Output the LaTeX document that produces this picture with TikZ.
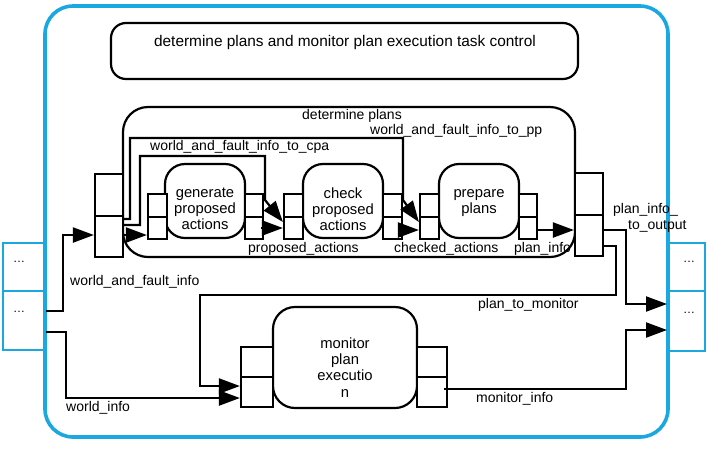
\documentclass[tikz,border=0pt]{standalone}
\usepackage{fontspec}
\setmainfont{Liberation Sans}
\usetikzlibrary{arrows.meta}
\definecolor{cyanb}{RGB}{27,168,224}
\begin{document}
\begin{tikzpicture}[x=1pt,y=-1pt,
  lab/.style={font=\fontsize{14}{16}\selectfont, inner sep=0pt, anchor=west},
  boxtxt/.style={font=\fontsize{14.8}{16.2}\selectfont, align=center, inner sep=0pt},
  rbox/.style={draw, line width=2.2pt, rounded corners=#1, inner sep=0pt, fill=white},
  port/.style={draw, line width=2.2pt, fill=white, inner sep=0pt},
  extport/.style={draw=cyanb, line width=2pt, inner sep=0pt},
  dots/.style={font=\fontsize{12}{12}\selectfont, inner sep=0pt},
  conn/.style={line width=2.2pt},
  arr/.style={conn, -{Triangle[length=21pt,width=15pt]}},
]
\useasboundingbox (0,0) rectangle (714,448);
% outer boundary
\node[draw=cyanb, line width=3.6pt, rounded corners=28pt, inner sep=0pt, minimum width=623pt, minimum height=431pt] (outer) at (356.5,221.5) {};
% external ports
\node[extport, minimum width=42pt, minimum height=48pt] (extL1) at (24,267) {};
\node[extport, minimum width=42pt, minimum height=59pt] (extL2) at (24,320.5) {};
\node[extport, minimum width=37pt, minimum height=48pt] (extR1) at (686.5,267) {};
\node[extport, minimum width=37pt, minimum height=60pt] (extR2) at (686.5,321) {};
\node[dots] (dL1) at (19,262) {…};
\node[dots] (dL2) at (19,312) {…};
\node[dots] (dR1) at (689,262) {…};
\node[dots] (dR2) at (689,313) {…};
% task control
\node[rbox=15pt, minimum width=467pt, minimum height=56pt] (tc) at (344.5,51) {};
\node[font=\fontsize{15.4}{18}\selectfont, inner sep=0pt] (tctext) at (345,43) {determine plans and monitor plan execution task control};
% determine plans
\node[rbox=25pt, minimum width=452pt, minimum height=150pt] (dp) at (349,182) {};
\node[lab, anchor=center] (dptext) at (352,116) {determine plans};
\node[port, minimum width=28pt, minimum height=42pt] (dpL1) at (109,195) {};
\node[port, minimum width=28pt, minimum height=41pt] (dpL2) at (109,236.5) {};
\node[port, minimum width=28pt, minimum height=42pt] (dpR1) at (589,194) {};
\node[port, minimum width=28pt, minimum height=41pt] (dpR2) at (589,235.5) {};
% inner processes
\node[rbox=20pt, minimum width=80pt, minimum height=74pt] (gen) at (205,201) {};
\node[rbox=20pt, minimum width=80pt, minimum height=74pt] (chk) at (343,201) {};
\node[rbox=20pt, minimum width=80pt, minimum height=74pt] (prep) at (479,201) {};
\node[boxtxt] (gentext) at (205,209) {generate\\proposed\\actions};
\node[boxtxt] (chktext) at (343,209) {check\\proposed\\actions};
\node[boxtxt] (preptext) at (479,203) {prepare\\plans};
\node[port, minimum width=19pt, minimum height=23pt] (genL1) at (157.5,205.5) {};
\node[port, minimum width=19pt, minimum height=22pt] (genL2) at (157.5,228) {};
\node[port, minimum width=18pt, minimum height=23pt] (genR1) at (254,205.5) {};
\node[port, minimum width=18pt, minimum height=22pt] (genR2) at (254,228) {};
\node[port, minimum width=19pt, minimum height=23pt] (chkL1) at (293.5,205.5) {};
\node[port, minimum width=19pt, minimum height=22pt] (chkL2) at (293.5,228) {};
\node[port, minimum width=19pt, minimum height=23pt] (chkR1) at (392.5,205.5) {};
\node[port, minimum width=19pt, minimum height=22pt] (chkR2) at (392.5,228) {};
\node[port, minimum width=19pt, minimum height=23pt] (prepL1) at (429.5,205.5) {};
\node[port, minimum width=19pt, minimum height=22pt] (prepL2) at (429.5,228) {};
\node[port, minimum width=18pt, minimum height=23pt] (prepR1) at (528,205.5) {};
\node[port, minimum width=18pt, minimum height=22pt] (prepR2) at (528,228) {};
% monitor
\node[rbox=22pt, minimum width=144pt, minimum height=101pt] (mon) at (345,357.5) {};
\node[boxtxt] (montext) at (345,367.5) {monitor\\plan\\executio\\n};
\node[port, minimum width=32pt, minimum height=30pt] (monL1) at (257,362) {};
\node[port, minimum width=32pt, minimum height=30pt] (monL2) at (257,392) {};
\node[port, minimum width=30pt, minimum height=30pt] (monR1) at (432,362) {};
\node[port, minimum width=30pt, minimum height=30pt] (monR2) at (432,392) {};
% connectors
\draw[arr] (extL2.east |- 0,311) -- (63,311) |- (dpL2.west |- 0,235);
\draw[arr] (extL2.east |- 0,332) -- (66,332) |- (monL2.west |- 0,398);
\draw[arr] (dpR2.east |- 0,246) -- (616,246) |- (200,295) |- (monL2.west |- 0,386);
\draw[arr] (dpR2.east |- 0,230) -- (626,230) |- (extR2.west |- 0,304);
\draw[arr] ([xshift=-4pt]monR2.east |- 0,389) -- (626,389) |- (extR2.west |- 0,330);
\draw[arr] (dpL2.east |- 0,219) -- (130,219) |- (403,138) -- (403,200) -- (prepL2.west |- 0,222);
\draw[arr] (dpL2.east |- 0,225) -- (140,225) |- (265,156) -- (265,200) -- (chkL2.west |- 0,222);
\draw[arr] (dpL2.east |- 0,235) -- (genL2.west |- 0,235);
\draw[arr] ([xshift=-3pt]genR2.east) -- (chkL2.west);
\draw[arr] ([xshift=-5pt]chkR2.east |- 0,230) -- (prepL2.west |- 0,230);
\draw[arr] ([xshift=-2pt]prepR2.east |- 0,230) -- (dpR2.west |- 0,230);
% labels
\node[lab] (l1) at (70,282) {world\_and\_fault\_info};
\node[lab] (l2) at (66,408) {world\_info};
\node[lab] (l3) at (478,305) {plan\_to\_monitor};
\node[lab] (l4) at (476,399) {monitor\_info};
\node[lab, align=left] (l5) at (613,218) {plan\_info\_\\\hspace*{15pt}to\_output};
\node[lab] (l6) at (370,131) {world\_and\_fault\_info\_to\_pp};
\node[lab] (l7) at (150,147) {world\_and\_fault\_info\_to\_cpa};
\node[lab] (l8) at (248,249) {proposed\_actions};
\node[lab] (l9) at (394,249) {checked\_actions};
\node[lab] (l10) at (514,249) {plan\_info};
\end{tikzpicture}
\end{document}
